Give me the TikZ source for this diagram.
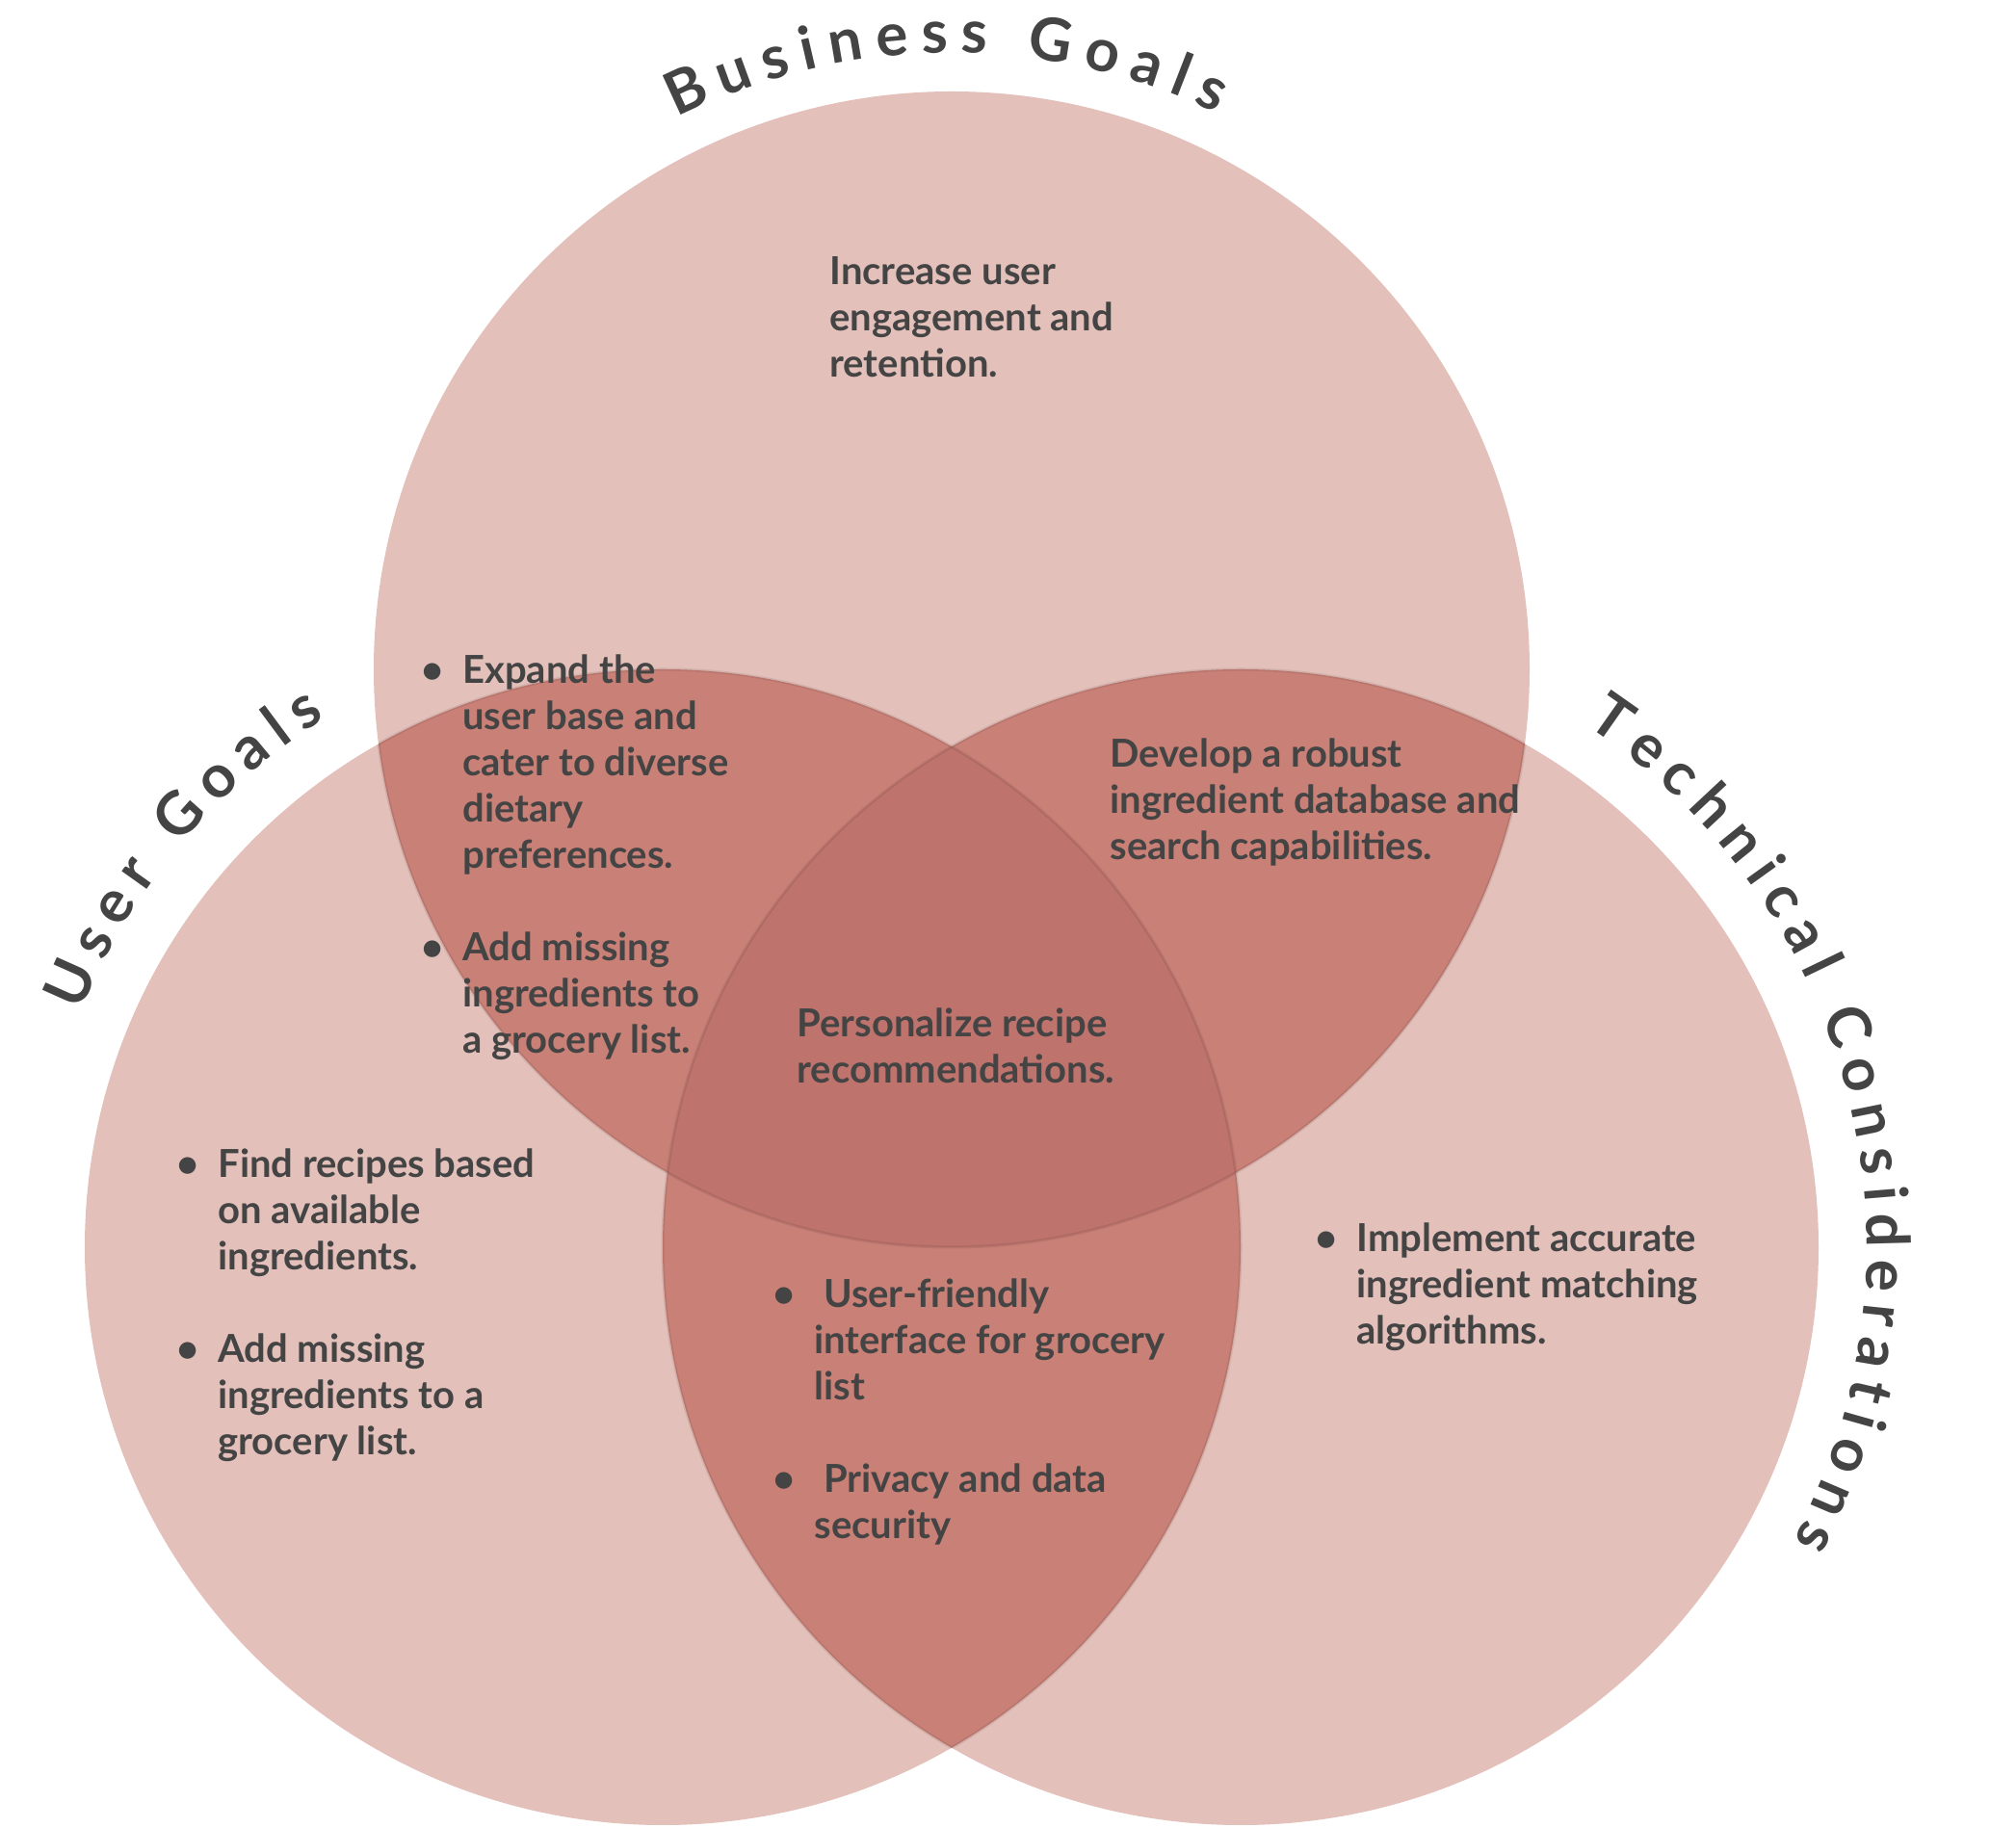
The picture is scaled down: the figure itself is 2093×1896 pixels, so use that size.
\documentclass[tikz,border=0pt]{standalone}
\usepackage{fontspec}
\setmainfont{Lato}
\usetikzlibrary{decorations.text}

\definecolor{txt}{HTML}{444444}
\definecolor{oneset}{HTML}{E3C0BA}
\definecolor{twosets}{HTML}{C98076}
\definecolor{threesets}{HTML}{BE736D}

\newcommand{\vennr}{300pt}
\newcommand{\lines}[1]{\begin{tabular}[t]{@{}l@{}}#1\end{tabular}}
\newcommand{\bul}{\llap{\textbullet\hspace{10pt}}}

\begin{document}
\begin{tikzpicture}[
  x=0.5pt, y=0.5pt,
  body/.style={anchor=base west, inner sep=0pt, text=txt,
    font=\fontsize{20}{24}\selectfont\bfseries},
  title/.style={decorate, decoration={text along path, text align=fit to path,
    text={|\fontsize{31}{36}\selectfont\bfseries\color{txt}|#1}}},
  rim/.style={draw=black, draw opacity=0.08, line width=1.5pt}
]
\useasboundingbox (0,0) rectangle (2093,1896);

\coordinate (biz) at (988,1201);
\coordinate (usr) at (688,601);
\coordinate (tec) at (1288,601);

% circles and overlaps
\fill[oneset] (biz) circle[radius=\vennr] (usr) circle[radius=\vennr] (tec) circle[radius=\vennr];
\begin{scope}
  \clip (biz) circle[radius=\vennr];
  \fill[twosets] (usr) circle[radius=\vennr] (tec) circle[radius=\vennr];
\end{scope}
\begin{scope}
  \clip (usr) circle[radius=\vennr];
  \fill[twosets] (tec) circle[radius=\vennr];
  \clip (biz) circle[radius=\vennr];
  \fill[threesets] (tec) circle[radius=\vennr];
\end{scope}

% soft edges inside the overlaps
\begin{scope}
  \clip (usr) circle[radius=\vennr] (tec) circle[radius=\vennr];
  \draw[rim] (biz) circle[radius=\vennr];
\end{scope}
\begin{scope}
  \clip (biz) circle[radius=\vennr] (tec) circle[radius=\vennr];
  \draw[rim] (usr) circle[radius=\vennr];
\end{scope}
\begin{scope}
  \clip (biz) circle[radius=\vennr] (usr) circle[radius=\vennr];
  \draw[rim] (tec) circle[radius=\vennr];
\end{scope}

% titles
\path[title={Business Goals}] (biz) ++(116.5:320pt) arc[start angle=116.5, end angle=64.5, radius=320pt];
\path[title={User Goals}] (usr) ++(158:326pt) arc[start angle=158, end angle=122.5, radius=326pt];
\path[title={Technical Considerations}] (tec) ++(56.5:325pt) arc[start angle=56.5, end angle=-28, radius=325pt];

% texts
\node[body] (inc) at (861,1600) {\lines{Increase user\\engagement and\\retention.}};
\node[body] (exp) at (480,1186) {\lines{\bul Expand the\\user base and\\cater to diverse\\dietary\\preferences.\\ \\\bul Add missing\\ingredients to\\a grocery list.}};
\node[body] (dev) at (1152,1099) {\lines{Develop a robust\\ingredient database and\\search capabilities.}};
\node[body] (pers) at (827,819) {\lines{Personalize recipe\\recommendations.}};
\node[body] (find) at (226,673) {\lines{\bul Find recipes based\\on available\\ingredients.\\ \\\bul Add missing\\ingredients to a\\grocery list.}};
\node[body] (ufr) at (845,538) {\lines{\bul\ User-friendly\\interface for grocery\\list\\ \\\bul\ Privacy and data\\security}};
\node[body] (impl) at (1408,596) {\lines{\bul Implement accurate\\ingredient matching\\algorithms.}};
\end{tikzpicture}
\end{document}
